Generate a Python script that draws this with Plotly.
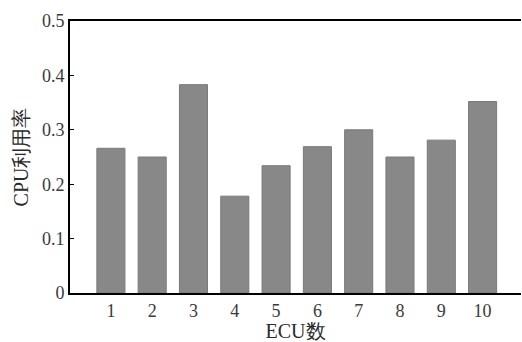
import plotly.graph_objects as go

categories = ["1", "2", "3", "4", "5", "6", "7", "8", "9", "10"]
cpu_usage = [0.266, 0.250, 0.383, 0.178, 0.234, 0.269, 0.300, 0.250, 0.281, 0.352]
y_ticks = [0, 0.1, 0.2, 0.3, 0.4, 0.5]
y_tick_labels = ["0", "0.1", "0.2", "0.3", "0.4", "0.5"]

x_pos = list(range(1, len(categories) + 1))

fig = go.Figure()
fig.add_trace(go.Bar(
    x=x_pos, y=cpu_usage, width=0.68,
    marker=dict(color="#888888", line=dict(color="#7a7a7a", width=1)),
))

font_family = "Liberation Serif, Times New Roman, serif"
fig.update_layout(
    width=522, height=342,
    margin=dict(l=70, r=1, t=21, b=49, autoexpand=False),
    plot_bgcolor="white", paper_bgcolor="white",
    showlegend=False,
    font=dict(family=font_family, size=18, color="#444444"),
    xaxis=dict(
        range=[0.01, 10.93], tickvals=x_pos, ticktext=categories,
        showline=True, linecolor="black", linewidth=2, mirror=True,
        ticks="", showgrid=False, zeroline=False, automargin=False,
        tickfont=dict(size=18, color="#3a3a3a"),
        title=dict(text="ECU数", font=dict(size=20, color="#2a2a2a"), standoff=0),
    ),
    yaxis=dict(
        range=[0, 0.5], tickvals=y_ticks, ticktext=y_tick_labels,
        showline=True, linecolor="black", linewidth=2,
        ticks="inside", ticklen=4, tickcolor="black",
        showgrid=False, zeroline=False, automargin=False,
        tickfont=dict(size=18, color="#3a3a3a"),
        title=dict(text="CPU利用率", font=dict(size=20, color="#2a2a2a"), standoff=8),
    ),
)

fig.write_html(
    "out.html",
    config={"displayModeBar": False},
    post_script="document.body.style.margin='0';document.body.style.overflow='hidden';",
)
